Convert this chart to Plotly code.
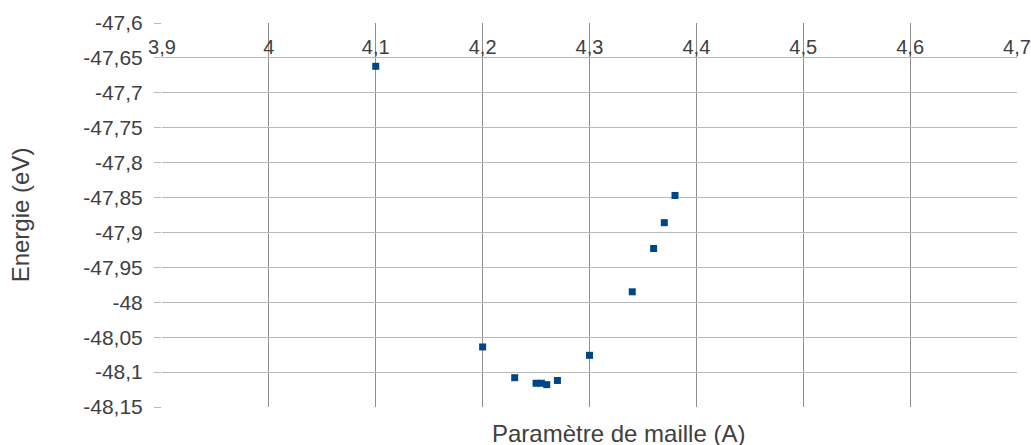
import plotly.graph_objects as go

# Data
lattice_param = [4.10, 4.20, 4.23, 4.25, 4.255, 4.26, 4.27, 4.30, 4.34, 4.36, 4.37, 4.38]
energy = [-47.662, -48.064, -48.108, -48.116, -48.116, -48.118, -48.112, -48.076,
          -47.985, -47.923, -47.886, -47.847]

x_ticks = [3.9, 4.0, 4.1, 4.2, 4.3, 4.4, 4.5, 4.6, 4.7]
y_ticks = [-47.6, -47.65, -47.7, -47.75, -47.8, -47.85, -47.9, -47.95, -48.0,
           -48.05, -48.1, -48.15]

x_title = "Paramètre de maille (A)"
y_title = "Energie (eV)"


def fr(v):
    return f"{v:g}".replace(".", ",")


FONT = "Liberation Sans, Arial, sans-serif"
TXT = "#404040"

W, H = 1031, 445
L, T = 162, 23
PW, PH = 855, 384.5

fig = go.Figure()
fig.add_trace(go.Scatter(
    x=lattice_param, y=energy, mode="markers",
    marker=dict(symbol="square", size=7, color="#004586", line=dict(width=0)),
    showlegend=False,
))

fig.update_layout(
    width=W, height=H,
    margin=dict(l=L, r=W - L - PW, t=T, b=H - T - PH, autoexpand=False),
    paper_bgcolor="white", plot_bgcolor="white",
    font=dict(family=FONT, size=21, color=TXT),
    xaxis=dict(
        range=[3.9, 4.7], tickmode="array", tickvals=x_ticks,
        ticktext=[fr(v) for v in x_ticks],
        side="top", anchor="free", position=10 / 11,
        showgrid=True, gridcolor="#8f8f8f", gridwidth=1,
        zeroline=False, showline=False, ticks="",
        ticklabelstandoff=0, automargin=False,
        tickfont=dict(family=FONT, size=20, color=TXT),
    ),
    yaxis=dict(
        range=[-48.15, -47.6], tickmode="array", tickvals=y_ticks,
        ticktext=[fr(v) for v in y_ticks],
        showgrid=True, gridcolor="#b8b8b8", gridwidth=1,
        zeroline=False, showline=False, automargin=False,
        ticks="outside", ticklen=7, tickcolor="#b8b8b8",
        ticklabelstandoff=7,
        tickfont=dict(family=FONT, size=21, color=TXT),
        title=dict(text=y_title, font=dict(family=FONT, size=24, color=TXT), standoff=46),
        domain=[0, 1],
    ),
    annotations=[dict(
        text=x_title, xref="paper", yref="paper",
        x=(618 - L) / PW, y=-(434 - 407.5) / PH,
        xanchor="center", yanchor="middle", showarrow=False,
        font=dict(family=FONT, size=24, color=TXT),
    )],
)

fig.write_html(
    "out.html",
    config={"displayModeBar": False},
    post_script="document.body.style.margin='0';document.body.style.overflow='hidden';",
)
